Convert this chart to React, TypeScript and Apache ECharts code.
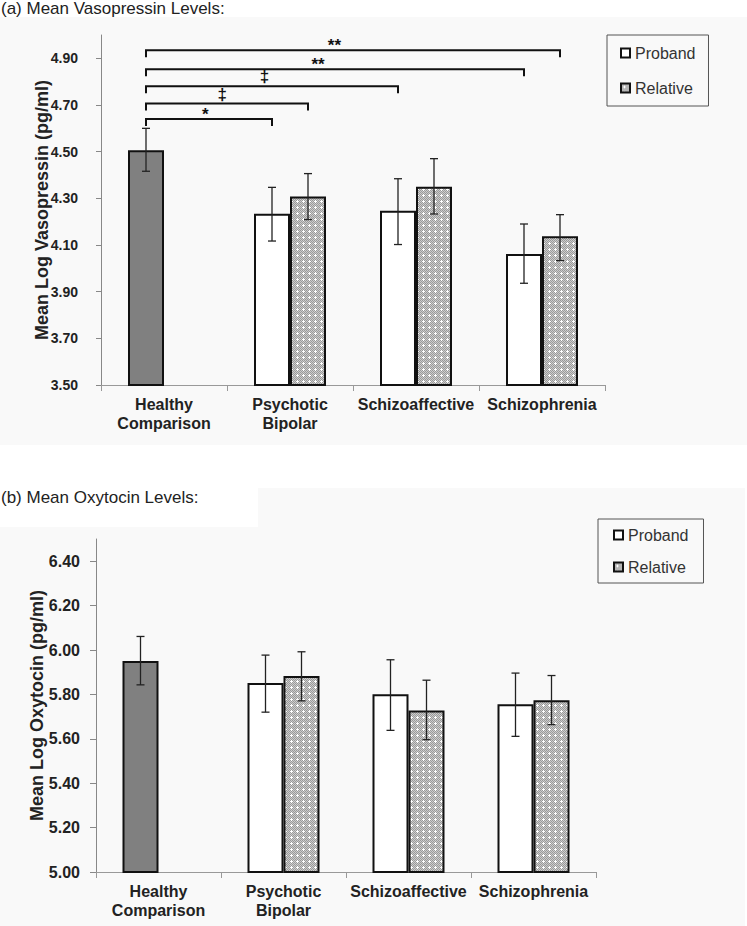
import React, { useEffect, useRef } from "react";
import * as echarts from "echarts";

// ---------- DATA ----------
const categories = ["Healthy\nComparison", "Psychotic\nBipolar", "Schizoaffective", "Schizophrenia"];
const seriesNames = ["Proband", "Relative"];

// (a) Mean Log Vasopressin (pg/ml)
const avpProband = [4.506, 4.234, 4.247, 4.061];
const avpRelative = [null, 4.308, 4.35, 4.137];
const avpProbandLow = [4.416, 4.117, 4.102, 3.936];
const avpProbandHigh = [4.6, 4.347, 4.384, 4.19];
const avpRelativeLow = [null, 4.209, 4.233, 4.033];
const avpRelativeHigh = [null, 4.406, 4.47, 4.23];
const avpTicks = [3.5, 3.7, 3.9, 4.1, 4.3, 4.5, 4.7, 4.9];
// significance brackets: [fromCategory, fromSlot, toCategory, toSlot, level]
const avpBrackets = [
  [0, 0, 1, 0, 4.64],
  [0, 0, 1, 1, 4.706],
  [0, 0, 2, 0, 4.78],
  [0, 0, 3, 0, 4.853],
  [0, 0, 3, 1, 4.935],
];
const avpBracketLabels = ["*", "‡", "‡", "**", "**"];

// (b) Mean Log Oxytocin (pg/ml)
const oxtProband = [5.951, 5.851, 5.801, 5.756];
const oxtRelative = [null, 5.883, 5.727, 5.774];
const oxtProbandLow = [5.843, 5.72, 5.638, 5.611];
const oxtProbandHigh = [6.061, 5.977, 5.956, 5.896];
const oxtRelativeLow = [null, 5.771, 5.596, 5.664];
const oxtRelativeHigh = [null, 5.992, 5.864, 5.885];
const oxtTicks = [5.0, 5.2, 5.4, 5.6, 5.8, 6.0, 6.2, 6.4];

// ---------- STYLE ----------
const BAR_W = 36;
const CAP = 4;
const FONT = "'Liberation Sans', Arial, sans-serif";

function makePattern() {
  const c = document.createElement("canvas");
  c.width = 6;
  c.height = 6;
  const g = c.getContext("2d")!;
  g.fillStyle = "#cdcdcd";
  g.fillRect(0, 0, 6, 6);
  g.fillStyle = "#9a9a9a";
  for (let y = 0; y < 6; y++) for (let x = 0; x < 6; x++) if ((x + y) % 2 === 0) g.fillRect(x, y, 1, 1);
  g.fillStyle = "#ffffff";
  g.fillRect(3, 2, 1, 3);
  g.fillRect(2, 3, 3, 1);
  return c;
}

function errData(low: (number | null)[], high: (number | null)[], slot: number) {
  const out: number[][] = [];
  low.forEach((l, i) => {
    const h = high[i];
    if (l != null && h != null) out.push([i, l, h, slot]);
  });
  return out;
}

function errorSeries(idx: number, data: number[][]) {
  return {
    type: "custom",
    xAxisIndex: idx,
    yAxisIndex: idx,
    z: 5,
    silent: true,
    encode: { x: 0, y: [1, 2] },
    data,
    renderItem: (params: any, api: any) => {
      const cat = api.value(0);
      const lo = api.coord([cat, api.value(1)]);
      const hi = api.coord([cat, api.value(2)]);
      const x = lo[0] + (api.value(3) - 0.5) * BAR_W;
      const st = { stroke: "#222", lineWidth: 1.3 };
      return {
        type: "group",
        children: [
          { type: "line", shape: { x1: x, y1: lo[1], x2: x, y2: hi[1] }, style: st },
          { type: "line", shape: { x1: x - CAP, y1: hi[1], x2: x + CAP, y2: hi[1] }, style: st },
          { type: "line", shape: { x1: x - CAP, y1: lo[1], x2: x + CAP, y2: lo[1] }, style: st },
        ],
      };
    },
  };
}

function bracketSeries(idx: number, data: number[][], labels: string[]) {
  return {
    type: "custom",
    xAxisIndex: idx,
    yAxisIndex: idx,
    z: 6,
    silent: true,
    encode: { x: [0, 2], y: 4 },
    data,
    renderItem: (params: any, api: any) => {
      const lvl = api.value(4);
      const a = api.coord([api.value(0), lvl]);
      const b = api.coord([api.value(2), lvl]);
      const x1 = a[0] + (api.value(1) - 0.5) * BAR_W;
      const x2 = b[0] + (api.value(3) - 0.5) * BAR_W;
      const y = a[1];
      const lab = labels[params.dataIndex];
      const star = lab.indexOf("*") >= 0;
      const frac = x2 - x1 > 300 ? 0.455 : 0.47;
      return {
        type: "group",
        children: [
          {
            type: "polyline",
            shape: { points: [[x1, y + 7], [x1, y], [x2, y], [x2, y + 7]] },
            style: { stroke: "#111", lineWidth: 2, fill: "none" },
          },
          {
            type: "text",
            x: x1 + (x2 - x1) * frac,
            y: y + (star ? 4 : -1),
            style: {
              text: lab,
              fill: "#111",
              font: `bold 17px ${FONT}`,
              align: "center",
              verticalAlign: "bottom",
            },
          },
        ],
      };
    },
  };
}

function barSeries(idx: number, name: string, values: (number | null)[], fill: any, first?: string) {
  return {
    type: "bar",
    name,
    xAxisIndex: idx,
    yAxisIndex: idx,
    barWidth: BAR_W,
    barGap: "0%",
    z: 3,
    itemStyle: { color: fill, borderColor: "#111", borderWidth: 2 },
    data: values.map((v, i) =>
      v == null ? "-" : i === 0 && first ? { value: v, itemStyle: { color: first } } : v
    ),
  };
}

export default function App() {
  const ref = useRef<HTMLDivElement>(null);
  useEffect(() => {
    if (!ref.current) return;
    const chart = echarts.init(ref.current, undefined, { renderer: "svg" });
    const pattern = { image: makePattern(), repeat: "repeat" };

    const xAxisCommon = {
      type: "category",
      data: categories,
      axisLine: { lineStyle: { color: "#999", width: 1 } },
      axisTick: { show: true, length: 6, lineStyle: { color: "#999" } },
      axisLabel: {
        color: "#222",
        fontFamily: FONT,
        fontWeight: "bold",
        fontSize: 16,
        lineHeight: 19,
        margin: 10,
        interval: 0,
      },
    };

    const legendCommon = {
      orient: "vertical",
      icon: "rect",
      itemWidth: 9,
      itemHeight: 9,
      borderColor: "#555",
      borderWidth: 1,
      textStyle: { color: "#333", fontFamily: FONT, fontSize: 16, lineHeight: 20 },
      selectedMode: false,
      data: [
        { name: seriesNames[0], itemStyle: { color: "#fff", borderColor: "#111", borderWidth: 2 } },
        { name: seriesNames[1], itemStyle: { color: pattern, borderColor: "#111", borderWidth: 2 } },
      ],
    };

    const yName = { color: "#222", fontFamily: FONT, fontWeight: "bold", fontSize: 18 };

    const option: any = {
      animation: false,
      backgroundColor: "#ffffff",
      graphic: [
        { type: "rect", z: -10, shape: { x: 0, y: 17, width: 747, height: 428 }, style: { fill: "#f9f9f9" } },
        { type: "rect", z: -10, shape: { x: 0, y: 488, width: 745, height: 438 }, style: { fill: "#f9f9f9" } },
        { type: "rect", z: -9, shape: { x: 0, y: 488, width: 258, height: 39 }, style: { fill: "#ffffff" } },
        {
          type: "text",
          left: 1,
          top: 0,
          style: { text: "(a) Mean Vasopressin Levels:", fill: "#222", font: `17px ${FONT}` },
        },
        {
          type: "text",
          left: 1,
          top: 489,
          style: { text: "(b) Mean Oxytocin Levels:", fill: "#222", font: `17px ${FONT}` },
        },
      ],
      legend: [
        { ...legendCommon, left: 607, top: 35, padding: [8, 13], itemGap: 15 },
        { ...legendCommon, left: 598, top: 519, padding: [6, 15], itemGap: 12 },
      ],
      grid: [
        { left: 101, top: 35, width: 504, height: 350 },
        { left: 96, top: 539, width: 500, height: 333 },
      ],
      xAxis: [
        { ...xAxisCommon, gridIndex: 0 },
        { ...xAxisCommon, gridIndex: 1 },
      ],
      yAxis: [
        {
          type: "value",
          gridIndex: 0,
          min: 3.5,
          max: 5.0,
          name: "Mean Log Vasopressin (pg/ml)",
          nameLocation: "middle",
          nameGap: 50,
          nameMoveOverlap: false,
          nameTextStyle: yName,
          axisLine: { show: true, lineStyle: { color: "#888" } },
          axisTick: { show: true, length: 5, customValues: avpTicks, lineStyle: { color: "#888" } },
          splitLine: { show: false },
          axisLabel: {
            customValues: avpTicks,
            formatter: (v: number) => v.toFixed(2),
            color: "#222",
            fontFamily: FONT,
            fontWeight: "bold",
            fontSize: 14,
            margin: 23,
          },
        },
        {
          type: "value",
          gridIndex: 1,
          min: 5.0,
          max: 6.5,
          name: "Mean Log Oxytocin (pg/ml)",
          nameLocation: "middle",
          nameGap: 50,
          nameMoveOverlap: false,
          nameTextStyle: yName,
          axisLine: { show: true, lineStyle: { color: "#888" } },
          axisTick: { show: true, length: 6, customValues: oxtTicks, lineStyle: { color: "#888" } },
          splitLine: { show: false },
          axisLabel: {
            customValues: oxtTicks,
            formatter: (v: number) => v.toFixed(2),
            color: "#222",
            fontFamily: FONT,
            fontWeight: "bold",
            fontSize: 16,
            margin: 16,
          },
        },
      ],
      series: [
        barSeries(0, seriesNames[0], avpProband, "#ffffff", "#808080"),
        barSeries(0, seriesNames[1], avpRelative, pattern),
        errorSeries(0, errData(avpProbandLow, avpProbandHigh, 0)),
        errorSeries(0, errData(avpRelativeLow, avpRelativeHigh, 1)),
        bracketSeries(0, avpBrackets, avpBracketLabels),
        barSeries(1, seriesNames[0], oxtProband, "#ffffff", "#808080"),
        barSeries(1, seriesNames[1], oxtRelative, pattern),
        errorSeries(1, errData(oxtProbandLow, oxtProbandHigh, 0)),
        errorSeries(1, errData(oxtRelativeLow, oxtRelativeHigh, 1)),
      ],
    };
    chart.setOption(option);
    return () => chart.dispose();
  }, []);
  return (
    <div
      ref={ref}
      style={{ position: "absolute", left: 0, top: 0, width: 747, height: 926 }}
    />
  );
}
